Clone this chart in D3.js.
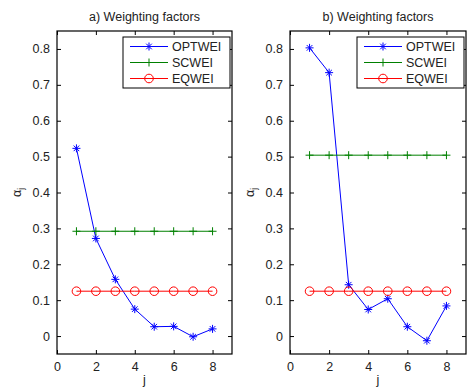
<!DOCTYPE html>
<html>
<head>
<meta charset="utf-8">
<script src="https://cdn.jsdelivr.net/npm/d3@7"></script>
<style>
  body { margin: 0; background: #fff; }
  text { font-family: "Liberation Sans", Arial, sans-serif; fill: #222; }
</style>
</head>
<body>
<svg id="svg1" width="467" height="390"></svg>
<script>
// data
var js = [1, 2, 3, 4, 5, 6, 7, 8];
var optA = [0.523, 0.272, 0.158, 0.075, 0.026, 0.027, -0.002, 0.020];
var scA = [0.292, 0.292, 0.292, 0.292, 0.292, 0.292, 0.292, 0.292];
var eqA = [0.125, 0.125, 0.125, 0.125, 0.125, 0.125, 0.125, 0.125];
var optB = [0.803, 0.734, 0.143, 0.074, 0.104, 0.026, -0.013, 0.084];
var scB = [0.504, 0.504, 0.504, 0.504, 0.504, 0.504, 0.504, 0.504];
var eqB = [0.125, 0.125, 0.125, 0.125, 0.125, 0.125, 0.125, 0.125];
var xTicks = [0, 2, 4, 6, 8];
var yTicks = [0, 0.1, 0.2, 0.3, 0.4, 0.5, 0.6, 0.7, 0.8];
var seriesNames = ["OPTWEI", "SCWEI", "EQWEI"];
var colors = ["#0000ff", "#008000", "#ff0000"];

var svg = d3.select("#svg1");
var fs = 12.5;

function marker(g, kind, color) {
  if (kind == 0) {
    // asterisk
    var r = 4;
    g.append("path")
      .attr("d", "M" + (-r) + ",0H" + r + "M0," + (-r) + "V" + r +
        "M" + (-r * 0.7) + "," + (-r * 0.7) + "L" + (r * 0.7) + "," + (r * 0.7) +
        "M" + (-r * 0.7) + "," + (r * 0.7) + "L" + (r * 0.7) + "," + (-r * 0.7))
      .attr("stroke", color).attr("stroke-width", 1).attr("fill", "none");
  } else if (kind == 1) {
    var r = 4;
    g.append("path")
      .attr("d", "M" + (-r) + ",0H" + r + "M0," + (-r) + "V" + r)
      .attr("stroke", color).attr("stroke-width", 1).attr("fill", "none");
  } else {
    g.append("circle").attr("r", 4.3)
      .attr("stroke", color).attr("stroke-width", 1).attr("fill", "none");
  }
}

function drawPanel(left, right, title, series) {
  var top = 31, bottom = 354;
  var x = d3.scaleLinear().domain([0, 9]).range([left, right]);
  var y = d3.scaleLinear().domain([-0.05, 0.85]).range([bottom, top]);

  var g = svg.append("g");

  // axes with inward ticks on all sides
  g.append("g").attr("transform", "translate(0," + bottom + ")")
    .call(d3.axisBottom(x).tickValues(xTicks).tickSizeInner(-4).tickSizeOuter(0).tickPadding(8));
  g.append("g").attr("transform", "translate(0," + top + ")")
    .call(d3.axisTop(x).tickValues(xTicks).tickSizeInner(-4).tickSizeOuter(0).tickFormat(""));
  g.append("g").attr("transform", "translate(" + left + ",0)")
    .call(d3.axisLeft(y).tickValues(yTicks).tickSizeInner(-4).tickSizeOuter(0).tickPadding(7)
      .tickFormat(function(d) { return d == 0 ? "0" : d3.format(".1f")(d); }));
  g.append("g").attr("transform", "translate(" + right + ",0)")
    .call(d3.axisRight(y).tickValues(yTicks).tickSizeInner(-4).tickSizeOuter(0).tickFormat(""));
  g.selectAll(".domain").remove();
  g.selectAll(".tick line").attr("stroke", "#000");
  g.selectAll(".tick text").attr("font-size", fs).attr("fill", "#222")
    .attr("font-family", "Liberation Sans, Arial, sans-serif");

  g.append("rect").attr("x", left).attr("y", top)
    .attr("width", right - left).attr("height", bottom - top)
    .attr("fill", "none").attr("stroke", "#000").attr("stroke-width", 1.2);

  var line = d3.line().x(function(d, i) { return x(js[i]); }).y(function(d) { return y(d); });

  series.forEach(function(s, k) {
    g.append("path").datum(s).attr("d", line)
      .attr("fill", "none").attr("stroke", colors[k]).attr("stroke-width", 1);
    s.forEach(function(v, i) {
      var m = g.append("g").attr("transform", "translate(" + x(js[i]) + "," + y(v) + ")");
      marker(m, k, colors[k]);
    });
  });

  // title
  g.append("text").attr("x", (left + right) / 2).attr("y", 20.5)
    .attr("text-anchor", "middle").attr("font-size", fs).text(title);

  // x label
  g.append("text").attr("x", (left + right) / 2).attr("y", 384)
    .attr("text-anchor", "middle").attr("font-size", fs).text("j");

  // y label
  var yl = g.append("text")
    .attr("transform", "translate(" + (left - 36) + "," + ((top + bottom) / 2) + ") rotate(-90)")
    .attr("text-anchor", "middle").attr("font-size", fs);
  yl.append("tspan").text("\u03b1");
  yl.append("tspan").attr("font-size", 8.5).attr("dy", 3).text("j");

  // legend
  var lw = 107, lh = 51;
  var lx = right - 2 - lw, ly = 37;
  var lg = g.append("g").attr("transform", "translate(" + lx + "," + ly + ")");
  lg.append("rect").attr("width", lw).attr("height", lh)
    .attr("fill", "#fff").attr("stroke", "#000").attr("stroke-width", 1);
  seriesNames.forEach(function(name, k) {
    var yy = 9.5 + k * 16;
    lg.append("line").attr("x1", 7).attr("x2", 45).attr("y1", yy).attr("y2", yy)
      .attr("stroke", colors[k]).attr("stroke-width", 1);
    marker(lg.append("g").attr("transform", "translate(26," + yy + ")"), k, colors[k]);
    lg.append("text").attr("x", 49).attr("y", yy + 4.5).attr("font-size", fs).text(name);
  });
}

drawPanel(57, 232, "a) Weighting factors", [optA, scA, eqA]);
drawPanel(290, 466, "b) Weighting factors", [optB, scB, eqB]);
</script>
</body>
</html>
